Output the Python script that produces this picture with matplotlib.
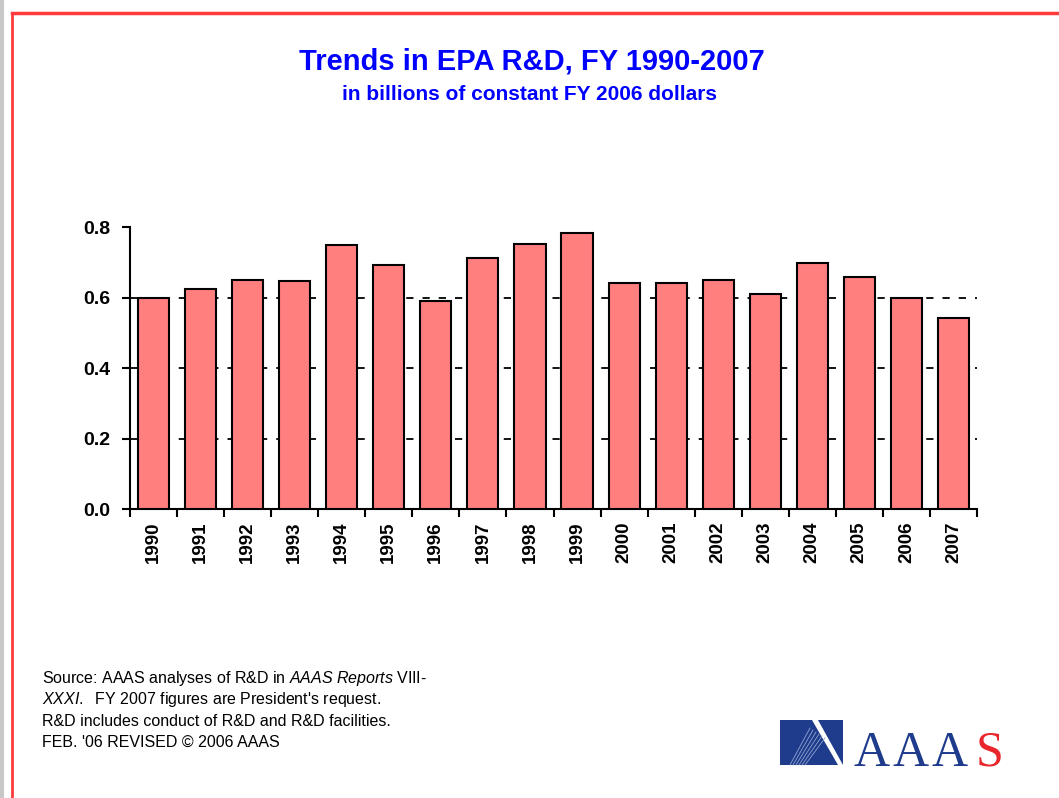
import matplotlib
matplotlib.use("Agg")
import matplotlib.pyplot as plt
from matplotlib.patches import Polygon
import numpy as np

plt.rcParams['font.family'] = ['Liberation Sans', 'DejaVu Sans']
plt.rcParams['mathtext.fontset'] = 'custom'
plt.rcParams['mathtext.it'] = 'Liberation Sans:italic'
plt.rcParams['mathtext.rm'] = 'Liberation Sans'

years = ['1990', '1991', '1992', '1993', '1994', '1995', '1996', '1997', '1998',
         '1999', '2000', '2001', '2002', '2003', '2004', '2005', '2006', '2007']
values = [0.600, 0.623, 0.651, 0.646, 0.748, 0.691, 0.589, 0.713, 0.753,
          0.782, 0.640, 0.640, 0.651, 0.611, 0.697, 0.657, 0.600, 0.543]
yticks = [0.0, 0.2, 0.4, 0.6, 0.8]
ytick_labels = ['0.0', '0.2', '0.4', '0.6', '0.8']

W, H = 1059, 798
fig = plt.figure(figsize=(W / 100, H / 100), dpi=100)
fig.patch.set_facecolor('white')

# background overlay (pixel coordinates) for frame and logo
bg = fig.add_axes([0, 0, 1, 1], zorder=-1)
bg.set_xlim(0, W)
bg.set_ylim(H, 0)
bg.axis('off')
bg.plot([2, 2], [0, H], color='#C8C8C8', lw=3)
bg.plot([12, 12], [13, H], color='#FF3B3B', lw=2)
bg.plot([12, W], [13, 13], color='#FF3B3B', lw=2.5)

# chart axes
left, right, top, bottom = 130, 977, 227, 509
ax = fig.add_axes([left / W, 1 - bottom / H, (right - left) / W, (bottom - top) / H])
x = np.arange(len(years))
ax.bar(x, values, width=0.66, color='#FF7F7F', edgecolor='black', linewidth=1.5, zorder=3)
ax.set_xlim(-0.5, len(years) - 0.5)
ax.set_ylim(0, 0.8)

for v in yticks[1:-1]:
    ax.axhline(v, color='black', lw=1.3, ls=(0, (4, 5)), zorder=1)

ax.set_yticks(yticks)
ax.set_yticklabels(ytick_labels, fontsize=14, fontweight='bold')
ax.set_xticks(x)
ax.set_xticklabels(years, rotation=90, fontsize=13.5, fontweight='bold')
ax.set_xticks(np.arange(-0.5, len(years)), minor=True)
ax.tick_params(axis='x', which='major', length=0, pad=9)
ax.tick_params(axis='x', which='minor', length=6, width=1.5, direction='out')
ax.tick_params(axis='y', length=6, width=1.5, direction='out', pad=8)
for s in ['top', 'right']:
    ax.spines[s].set_visible(False)
for s in ['left', 'bottom']:
    ax.spines[s].set_linewidth(1.5)
ax.set_facecolor('none')

# titles
fig.text(532 / W, 1 - 62 / H, 'Trends in EPA R&D, FY 1990-2007', ha='center', va='center',
         fontsize=21, fontweight='bold', color='#0000FF')
fig.text(530 / W, 1 - 95 / H, 'in billions of constant FY 2006 dollars', ha='center', va='center',
         fontsize=15, fontweight='bold', color='#0000FF')

# footnote
foot = [r'Source: AAAS analyses of R&D in $\it{AAAS\ Reports}$ VIII-',
        r'$\it{XXXI.}$  FY 2007 figures are President' + "'s request.",
        'R&D includes conduct of R&D and R&D facilities.',
        "FEB. '06 REVISED \u00a9 2006 AAAS"]
for i, line in enumerate(foot):
    fig.text(42 / W, 1 - (678 + i * 21.5) / H, line, ha='left', va='center',
             fontsize=11.5, color='black')

# AAAS logo
navy = '#1F3C8C'
bg.add_patch(Polygon([(780, 720), (812, 720), (838, 765), (780, 765)], closed=True,
                     facecolor=navy, edgecolor='none'))
bg.add_patch(Polygon([(818, 720), (843, 720), (843, 765)], closed=True,
                     facecolor=navy, edgecolor='none'))
for k in range(6):
    bg.plot([790 + k * 3, 812 + k * 3 - 2], [765, 728 + k * 2], color='#8FA3D0', lw=0.6)
for cx, ch, col in [(872, 'A', navy), (911, 'A', navy), (950, 'A', navy), (990, 'S', '#E8262C')]:
    bg.text(cx, 766, ch, ha='center', va='baseline', fontsize=36,
            family=['Liberation Serif', 'DejaVu Serif'], color=col)

fig.savefig('out.png', dpi=100, facecolor='white')
